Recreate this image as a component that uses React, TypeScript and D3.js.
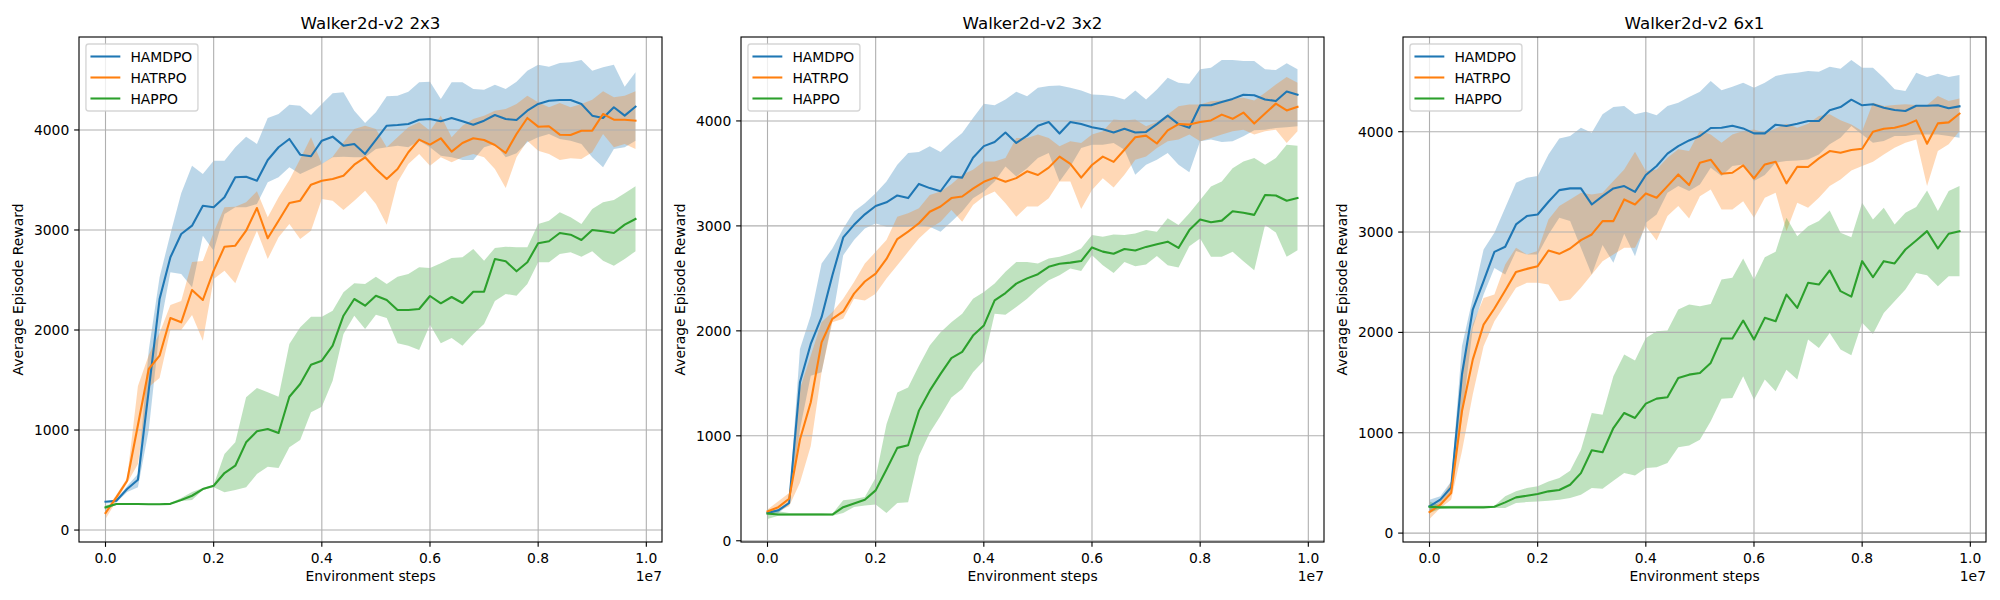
import React from 'react';
import * as d3 from 'd3';

// ---- data ----
const steps = d3.range(50).map((i) => i * 200000);
const algorithms = ['HAMDPO', 'HATRPO', 'HAPPO'];
const colors = ['#1f77b4', '#ff7f0e', '#2ca02c'];
const titles = ['Walker2d-v2 2x3', 'Walker2d-v2 3x2', 'Walker2d-v2 6x1'];
const xTicks = [0, 2e6, 4e6, 6e6, 8e6, 1e7];
const xTickLabels = ['0.0', '0.2', '0.4', '0.6', '0.8', '1.0'];
const yTicks = [0, 1000, 2000, 3000, 4000];

// Walker2d 2x3
const hamdpo2x3Mean = [283, 293, 410, 503, 1400, 2310, 2727, 2960, 3043, 3243, 3227, 3327, 3527, 3533, 3493, 3700, 3827, 3910, 3753, 3737, 3893, 3933, 3843, 3860, 3760, 3900, 4043, 4050, 4060, 4103, 4110, 4087, 4120, 4087, 4053, 4093, 4150, 4110, 4100, 4193, 4260, 4293, 4300, 4300, 4260, 4143, 4120, 4227, 4143, 4233];
const hamdpo2x3Hi = [290, 300, 440, 560, 1800, 2527, 2960, 3367, 3643, 3560, 3693, 3693, 3827, 3933, 3860, 4120, 4160, 4253, 4243, 4150, 4260, 4367, 4377, 4193, 4070, 4177, 4337, 4343, 4383, 4477, 4483, 4310, 4477, 4477, 4410, 4403, 4453, 4410, 4483, 4593, 4653, 4633, 4670, 4677, 4700, 4593, 4627, 4653, 4433, 4577];
const hamdpo2x3Lo = [265, 275, 380, 427, 1000, 2000, 2577, 2560, 2427, 2943, 2793, 3160, 3227, 3227, 3260, 3477, 3527, 3627, 3560, 3610, 3660, 3727, 3733, 3727, 3727, 3810, 3827, 3843, 3827, 3893, 3827, 3743, 3727, 3700, 3700, 3827, 3860, 3727, 3767, 3877, 3927, 3960, 3910, 3893, 3860, 3727, 3627, 3810, 3827, 3893];
const hatrpo2x3Mean = [170, 327, 493, 1050, 1610, 1743, 2120, 2077, 2400, 2300, 2593, 2833, 2843, 2993, 3220, 2917, 3093, 3270, 3293, 3453, 3493, 3510, 3543, 3653, 3727, 3610, 3510, 3610, 3777, 3903, 3853, 3917, 3783, 3870, 3917, 3900, 3850, 3770, 3960, 4120, 4033, 4037, 3953, 3950, 3993, 3993, 4160, 4103, 4103, 4093];
const hatrpo2x3Hi = [200, 350, 520, 1440, 1750, 1970, 2250, 2290, 2680, 2690, 2977, 3227, 3233, 3277, 3387, 3127, 3327, 3500, 3710, 3927, 3660, 3733, 3877, 4010, 4043, 4010, 3827, 3927, 4027, 4077, 3993, 4143, 3927, 4043, 4110, 4143, 4193, 4210, 4260, 4343, 4277, 4227, 4270, 4227, 4260, 4303, 4387, 4327, 4343, 4387];
const hatrpo2x3Lo = [110, 290, 470, 660, 1430, 1520, 2000, 2000, 2150, 1893, 2510, 2593, 2467, 2743, 2993, 2710, 2927, 3060, 2910, 2993, 3310, 3293, 3200, 3293, 3393, 3260, 3053, 3477, 3660, 3760, 3643, 3727, 3677, 3727, 3760, 3727, 3610, 3420, 3727, 3893, 3793, 3760, 3700, 3717, 3710, 3777, 3960, 3827, 3860, 3810];
const happo2x3Mean = [227, 260, 260, 260, 258, 258, 262, 300, 343, 410, 443, 570, 643, 877, 987, 1010, 970, 1333, 1460, 1653, 1693, 1843, 2143, 2310, 2243, 2343, 2300, 2200, 2200, 2210, 2340, 2267, 2330, 2270, 2383, 2383, 2710, 2687, 2587, 2677, 2867, 2887, 2970, 2953, 2900, 3000, 2987, 2970, 3053, 3110];
const happo2x3Hi = [250, 265, 265, 265, 265, 265, 270, 320, 380, 420, 450, 760, 877, 1327, 1420, 1377, 1333, 1860, 2027, 2133, 2133, 2193, 2377, 2467, 2460, 2533, 2460, 2533, 2560, 2627, 2620, 2667, 2720, 2727, 2810, 2693, 2820, 2833, 2827, 2827, 3060, 3093, 3177, 3127, 3060, 3210, 3277, 3300, 3367, 3437];
const happo2x3Lo = [205, 250, 255, 255, 255, 255, 255, 290, 300, 400, 427, 377, 400, 427, 560, 633, 620, 827, 900, 1177, 1233, 1493, 1960, 2143, 2010, 2153, 2120, 1867, 1843, 1800, 2053, 1867, 1920, 1843, 1960, 2060, 2290, 2360, 2343, 2460, 2677, 2677, 2760, 2777, 2733, 2787, 2693, 2643, 2710, 2787];

// Walker2d 3x2
const hamdpo3x2Mean = [265, 290, 360, 1510, 1875, 2130, 2530, 2890, 3010, 3110, 3190, 3225, 3290, 3265, 3400, 3360, 3330, 3470, 3460, 3650, 3760, 3800, 3890, 3790, 3860, 3955, 3990, 3880, 3990, 3970, 3940, 3920, 3890, 3925, 3890, 3895, 3970, 4050, 3970, 3935, 4150, 4150, 4180, 4210, 4250, 4245, 4205, 4190, 4280, 4250];
const hamdpo3x2Hi = [281, 303, 376, 1828, 2147, 2641, 2785, 2976, 3136, 3216, 3311, 3423, 3582, 3694, 3704, 3758, 3704, 3799, 3885, 4029, 4163, 4150, 4204, 4278, 4236, 4316, 4332, 4338, 4316, 4291, 4252, 4246, 4236, 4204, 4291, 4204, 4300, 4412, 4364, 4354, 4492, 4507, 4581, 4581, 4571, 4571, 4492, 4485, 4549, 4492];
const hamdpo3x2Lo = [249, 265, 345, 1062, 1573, 1605, 2115, 2721, 2865, 2976, 3024, 2992, 2992, 2992, 3008, 2992, 2944, 3040, 3136, 3263, 3327, 3423, 3566, 3471, 3550, 3646, 3694, 3423, 3566, 3742, 3774, 3774, 3790, 3726, 3487, 3582, 3630, 3694, 3582, 3512, 3806, 3822, 3799, 3806, 3854, 3911, 3917, 3933, 3940, 3949];
const hatrpo3x2Mean = [280, 320, 400, 965, 1320, 1890, 2115, 2185, 2355, 2470, 2545, 2685, 2875, 2945, 3025, 3135, 3185, 3265, 3280, 3355, 3420, 3460, 3420, 3455, 3520, 3485, 3555, 3660, 3590, 3460, 3580, 3660, 3610, 3725, 3845, 3860, 3785, 3910, 3970, 3965, 3990, 4005, 4060, 4020, 4080, 3975, 4070, 4165, 4100, 4135];
const hatrpo3x2Hi = [297, 376, 456, 1445, 1764, 2083, 2179, 2306, 2466, 2641, 2753, 2865, 3088, 3120, 3168, 3295, 3327, 3397, 3487, 3535, 3614, 3614, 3646, 3838, 3838, 3870, 3838, 3758, 3806, 3790, 3870, 3901, 4013, 4003, 4013, 3949, 3991, 4061, 4141, 4157, 4157, 4188, 4195, 4214, 4220, 4195, 4268, 4348, 4418, 4364];
const hatrpo3x2Lo = [258, 281, 329, 552, 903, 1605, 2083, 2115, 2306, 2290, 2354, 2498, 2625, 2753, 2880, 2976, 3040, 3152, 3040, 3200, 3279, 3327, 3216, 3088, 3184, 3184, 3263, 3423, 3423, 3161, 3343, 3455, 3365, 3487, 3630, 3662, 3742, 3806, 3822, 3870, 3806, 3838, 3870, 3901, 3917, 3870, 3901, 3917, 3790, 3901];
const happo3x2Mean = [260, 250, 250, 250, 250, 250, 250, 320, 355, 390, 480, 680, 885, 910, 1240, 1430, 1590, 1740, 1800, 1955, 2050, 2290, 2360, 2450, 2500, 2540, 2610, 2640, 2650, 2665, 2795, 2755, 2735, 2780, 2765, 2800, 2825, 2850, 2790, 2960, 3060, 3035, 3050, 3140, 3125, 3105, 3295, 3290, 3240, 3265];
const happo3x2Hi = [297, 281, 265, 265, 265, 265, 258, 386, 399, 418, 600, 1110, 1413, 1461, 1668, 1860, 1987, 2083, 2163, 2306, 2370, 2450, 2562, 2657, 2657, 2641, 2689, 2705, 2737, 2785, 2913, 2897, 2919, 2913, 2928, 2960, 2944, 3072, 3008, 3120, 3247, 3375, 3423, 3550, 3614, 3646, 3582, 3646, 3774, 3764];
const happo3x2Lo = [207, 239, 239, 239, 239, 239, 239, 265, 322, 335, 345, 265, 360, 367, 807, 1030, 1190, 1365, 1445, 1605, 1716, 2163, 2153, 2227, 2306, 2402, 2482, 2530, 2594, 2571, 2721, 2625, 2552, 2657, 2616, 2632, 2712, 2625, 2603, 2807, 2881, 2705, 2705, 2753, 2664, 2578, 3008, 2938, 2705, 2769];

// Walker2d 6x1
const hamdpo6x1Mean = [266, 333, 455, 1580, 2228, 2510, 2803, 2853, 3076, 3159, 3175, 3302, 3418, 3435, 3435, 3275, 3358, 3435, 3458, 3401, 3568, 3658, 3781, 3857, 3913, 3957, 4037, 4040, 4060, 4033, 3983, 3983, 4070, 4057, 4080, 4106, 4106, 4213, 4246, 4319, 4263, 4273, 4239, 4216, 4206, 4259, 4259, 4263, 4233, 4253];
const hamdpo6x1Hi = [333, 366, 515, 1862, 2344, 2826, 2993, 3242, 3491, 3541, 3558, 3774, 3933, 3957, 4040, 3990, 4173, 4246, 4256, 4173, 4199, 4163, 4256, 4289, 4346, 4399, 4505, 4412, 4449, 4489, 4439, 4489, 4555, 4578, 4588, 4605, 4598, 4648, 4628, 4715, 4638, 4638, 4538, 4422, 4406, 4588, 4545, 4578, 4545, 4565];
const hamdpo6x1Lo = [216, 300, 415, 1147, 2045, 2377, 2643, 2577, 2810, 2776, 2776, 2976, 3142, 3109, 2843, 2577, 2870, 2693, 2983, 2760, 3092, 3175, 3391, 3458, 3408, 3475, 3641, 3558, 3658, 3674, 3508, 3568, 3691, 3707, 3714, 3724, 3774, 3874, 3940, 4057, 3973, 3890, 3907, 3957, 3957, 3973, 3973, 3973, 3957, 3940];
const hatrpo6x1Mean = [209, 283, 399, 1214, 1729, 2078, 2238, 2417, 2603, 2633, 2660, 2816, 2783, 2836, 2919, 2976, 3109, 3109, 3325, 3275, 3385, 3342, 3458, 3574, 3468, 3691, 3721, 3581, 3591, 3664, 3535, 3674, 3701, 3485, 3651, 3648, 3734, 3807, 3791, 3817, 3830, 4000, 4030, 4040, 4066, 4113, 3880, 4083, 4093, 4180];
const hatrpo6x1Hi = [249, 316, 515, 1646, 2078, 2344, 2377, 2677, 2843, 2776, 2810, 3126, 3259, 3325, 3391, 3375, 3391, 3508, 3624, 3800, 3608, 3624, 3741, 3824, 3807, 4013, 3973, 3890, 3973, 4007, 4023, 3990, 4033, 4080, 4040, 4080, 4156, 4173, 4113, 4073, 4007, 4289, 4256, 4266, 4273, 4266, 4266, 4356, 4306, 4332];
const hatrpo6x1Lo = [140, 249, 333, 815, 1380, 1862, 2111, 2278, 2444, 2494, 2494, 2477, 2311, 2328, 2444, 2577, 2710, 2776, 2843, 2843, 3059, 2916, 3159, 3259, 3135, 3358, 3425, 3225, 3225, 3308, 3142, 3342, 3391, 3009, 3292, 3242, 3342, 3458, 3524, 3614, 3658, 3701, 3774, 3840, 3890, 3923, 3458, 3807, 3874, 4007];
const happo6x1Mean = [263, 256, 256, 256, 256, 256, 263, 306, 356, 372, 389, 416, 429, 482, 598, 825, 805, 1047, 1197, 1147, 1290, 1340, 1353, 1546, 1579, 1596, 1696, 1939, 1939, 2118, 1929, 2145, 2111, 2377, 2244, 2494, 2477, 2617, 2411, 2357, 2710, 2550, 2710, 2687, 2826, 2916, 3009, 2836, 2983, 3009];
const happo6x1Hi = [316, 273, 273, 273, 273, 273, 273, 366, 416, 449, 466, 515, 549, 622, 831, 1197, 1180, 1563, 1779, 1719, 1945, 2012, 2018, 2228, 2278, 2261, 2284, 2527, 2544, 2736, 2527, 2750, 2803, 3142, 2959, 3059, 3109, 3215, 2993, 2949, 3292, 3126, 3242, 3076, 3192, 3249, 3415, 3209, 3408, 3458];
const happo6x1Lo = [200, 243, 249, 249, 249, 249, 249, 249, 299, 309, 316, 323, 333, 349, 382, 449, 442, 522, 598, 575, 648, 655, 698, 855, 874, 931, 1114, 1340, 1347, 1563, 1330, 1530, 1413, 1629, 1530, 1929, 1845, 1995, 1829, 1772, 2095, 1985, 2194, 2311, 2427, 2593, 2570, 2460, 2560, 2560];

const panels = [
  [
    { mean: hamdpo2x3Mean, lo: hamdpo2x3Lo, hi: hamdpo2x3Hi },
    { mean: hatrpo2x3Mean, lo: hatrpo2x3Lo, hi: hatrpo2x3Hi },
    { mean: happo2x3Mean, lo: happo2x3Lo, hi: happo2x3Hi },
  ],
  [
    { mean: hamdpo3x2Mean, lo: hamdpo3x2Lo, hi: hamdpo3x2Hi },
    { mean: hatrpo3x2Mean, lo: hatrpo3x2Lo, hi: hatrpo3x2Hi },
    { mean: happo3x2Mean, lo: happo3x2Lo, hi: happo3x2Hi },
  ],
  [
    { mean: hamdpo6x1Mean, lo: hamdpo6x1Lo, hi: hamdpo6x1Hi },
    { mean: hatrpo6x1Mean, lo: hatrpo6x1Lo, hi: hatrpo6x1Hi },
    { mean: happo6x1Mean, lo: happo6x1Lo, hi: happo6x1Hi },
  ],
];

// ---- layout (matplotlib 20x6 in @ 100 dpi) ----
const W = 2000;
const H = 600;
const axLefts = [79, 741, 1403];
const axWidth = 583;
const axTop = 37;
const axBottom = 542;
const FS = 13.89; // 10pt
const font = 'DejaVu Sans, Verdana, sans-serif';

const Panel = ({ idx }: { idx: number }) => {
  const left = axLefts[idx];
  const right = left + axWidth;
  const series = panels[idx];

  const xPad = (steps[steps.length - 1] - steps[0]) * 0.05;
  const x = d3.scaleLinear()
    .domain([steps[0] - xPad, steps[steps.length - 1] + xPad])
    .range([left, right]);

  const all = series.flatMap((s) => [...s.lo, ...s.hi, ...s.mean]);
  const [yMin, yMax] = d3.extent(all) as [number, number];
  const yPad = (yMax - yMin) * 0.05;
  const y = d3.scaleLinear().domain([yMin - yPad, yMax + yPad]).range([axBottom, axTop]);

  const idxs = d3.range(steps.length);
  const line = (vals: number[]) =>
    d3.line<number>().x((i) => x(steps[i])).y((i) => y(vals[i]))(idxs) || '';
  const band = (lo: number[], hi: number[]) =>
    d3.area<number>().x((i) => x(steps[i])).y0((i) => y(lo[i])).y1((i) => y(hi[i]))(idxs) || '';

  const clipId = `clip-${idx}`;
  const midX = (left + right) / 2;
  const lgX = left + 0.5 * FS;
  const lgY = axTop + 0.5 * FS;

  return (
    <g>
      <defs>
        <clipPath id={clipId}>
          <rect x={left} y={axTop} width={axWidth} height={axBottom - axTop} />
        </clipPath>
      </defs>

      <g clipPath={`url(#${clipId})`}>
        {series.map((s, k) => (
          <path key={`b${k}`} d={band(s.lo, s.hi)} fill={colors[k]} fillOpacity={0.3} stroke="none" />
        ))}
        {xTicks.map((t) => (
          <line key={`gx${t}`} x1={x(t)} x2={x(t)} y1={axTop} y2={axBottom} stroke="#b0b0b0" strokeWidth={1.11} />
        ))}
        {yTicks.map((t) => (
          <line key={`gy${t}`} x1={left} x2={right} y1={y(t)} y2={y(t)} stroke="#b0b0b0" strokeWidth={1.11} />
        ))}
        {series.map((s, k) => (
          <path key={`l${k}`} d={line(s.mean)} fill="none" stroke={colors[k]} strokeWidth={2.08}
            strokeLinejoin="round" strokeLinecap="square" />
        ))}
      </g>

      {/* spines */}
      <rect x={left} y={axTop} width={axWidth} height={axBottom - axTop} fill="none" stroke="#000" strokeWidth={1.11} />

      {/* x ticks */}
      {xTicks.map((t, i) => (
        <g key={`xt${t}`}>
          <line x1={x(t)} x2={x(t)} y1={axBottom} y2={axBottom + 4.86} stroke="#000" strokeWidth={1.11} />
          <text x={x(t)} y={562.5} textAnchor="middle" fontSize={FS} fontFamily={font} fill="#000">
            {xTickLabels[i]}
          </text>
        </g>
      ))}
      <text x={right} y={581} textAnchor="end" fontSize={FS} fontFamily={font} fill="#000">1e7</text>
      <text x={midX} y={580.5} textAnchor="middle" fontSize={FS} fontFamily={font} fill="#000">
        Environment steps
      </text>

      {/* y ticks */}
      {yTicks.map((t) => (
        <g key={`yt${t}`}>
          <line x1={left - 4.86} x2={left} y1={y(t)} y2={y(t)} stroke="#000" strokeWidth={1.11} />
          <text x={left - 9.72} y={y(t) + 5} textAnchor="end" fontSize={FS} fontFamily={font} fill="#000">
            {t}
          </text>
        </g>
      ))}
      <text transform={`translate(${left - 56},${(axTop + axBottom) / 2}) rotate(-90)`} textAnchor="middle"
        fontSize={FS} fontFamily={font} fill="#000">
        Average Episode Reward
      </text>

      {/* title */}
      <text x={midX} y={28.7} textAnchor="middle" fontSize={16.67} fontFamily={font} fill="#000">
        {titles[idx]}
      </text>

      {/* legend */}
      <rect x={lgX} y={lgY} width={112} height={67} rx={2.8} ry={2.8}
        fill="#fff" fillOpacity={0.8} stroke="#cccccc" strokeOpacity={0.8} strokeWidth={1.39} />
      {algorithms.map((name, k) => {
        const cy = lgY + 0.4 * FS + 7 + k * 21;
        const hx = lgX + 0.4 * FS;
        return (
          <g key={name}>
            <line x1={hx} x2={hx + 2 * FS} y1={cy} y2={cy} stroke={colors[k]} strokeWidth={2.08} strokeLinecap="square" />
            <text x={hx + 2.8 * FS} y={cy + 5} fontSize={FS} fontFamily={font} fill="#000">{name}</text>
          </g>
        );
      })}
    </g>
  );
};

export default function App() {
  return (
    <div style={{ position: 'absolute', left: 0, top: 0 }}>
      <svg width={W} height={H} viewBox={`0 0 ${W} ${H}`} style={{ display: 'block', background: '#fff' }}>
        <rect x={0} y={0} width={W} height={H} fill="#fff" />
        {panels.map((_, i) => (
          <Panel key={i} idx={i} />
        ))}
      </svg>
    </div>
  );
}
